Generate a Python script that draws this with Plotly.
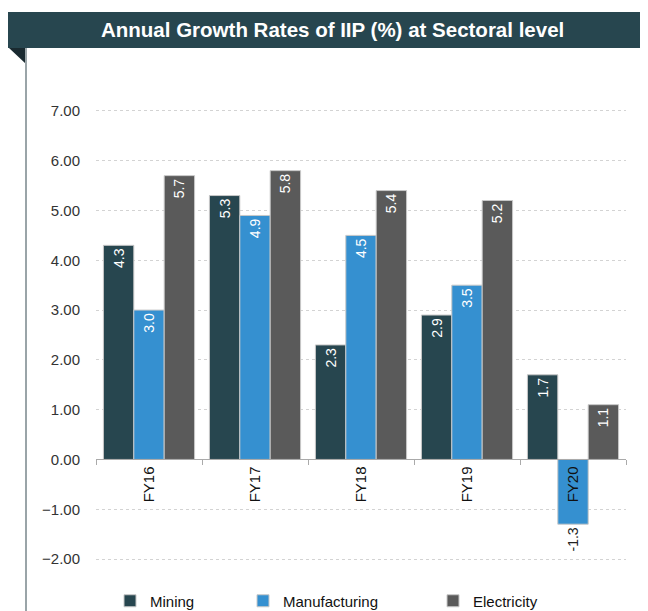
import plotly.graph_objects as go

categories = ["FY16", "FY17", "FY18", "FY19", "FY20"]
mining = [4.3, 5.3, 2.3, 2.9, 1.7]
manufacturing = [3.0, 4.9, 4.5, 3.5, -1.3]
electricity = [5.7, 5.8, 5.4, 5.2, 1.1]
y_ticks = [-2, -1, 0, 1, 2, 3, 4, 5, 6, 7]
title_text = "Annual Growth Rates of IIP (%) at Sectoral level"

OFF = 8  # page body margin
W, H = 648 - OFF, 611 - OFF
# plot area in screen pixels: x 96..626, y 86..569
L, R, T, B = 96 - OFF, W - (626 - OFF), 86 - OFF, H - (569 - OFF)
YMIN, YMAX = -2.2, 7.5

def px_x(p):
    return (p - OFF - L) / (W - L - R)

def px_y(p):
    return (H - B - (p - OFF)) / (H - T - B)

FONT = "Liberation Sans, Arial, sans-serif"
colors = {"Mining": "#27464f", "Manufacturing": "#3590d0", "Electricity": "#5a5a5a"}

fig = go.Figure()
series = [("Mining", mining, "legend"), ("Manufacturing", manufacturing, "legend2"),
          ("Electricity", electricity, "legend3")]
for name, vals, lg in series:
    fig.add_trace(go.Bar(
        name=name, x=categories, y=vals,
        marker=dict(color=colors[name], line=dict(color="#c8c8c8", width=1)),
        texttemplate="%{y:.1f}",
        textposition=["inside" if v >= 0 else "outside" for v in vals],
        insidetextanchor="end",
        textangle=-90,
        insidetextfont=dict(color="white", size=14, family=FONT),
        outsidetextfont=dict(color="#222222", size=14, family=FONT),
        constraintext="none",
        cliponaxis=False,
        legend=lg,
    ))

zero_pos = (0 - YMIN) / (YMAX - YMIN)

fig.update_layout(
    width=W, height=H,
    margin=dict(l=L, r=R, t=T, b=B, autoexpand=False),
    paper_bgcolor="white", plot_bgcolor="white",
    barmode="group", bargap=0.14, bargroupgap=0,
    font=dict(family=FONT, size=14, color="#222222"),
    showlegend=True,
    xaxis=dict(
        anchor="free", position=zero_pos,
        tickson="boundaries", ticks="outside", ticklen=5, tickcolor="#aaaaaa",
        showline=True, linecolor="#aaaaaa", linewidth=1,
        showgrid=False, tickangle=-90,
        tickfont=dict(size=15, color="#111111", family=FONT),
        layer="above traces",
    ),
    yaxis=dict(
        range=[YMIN, YMAX], tickvals=y_ticks, tickformat=".2f",
        showgrid=True, gridcolor="#d3d3d3", griddash="dot", gridwidth=1,
        zeroline=False, showline=False,
        ticks="", ticklabelstandoff=15,
        tickfont=dict(size=15, color="#333333", family=FONT),
    ),
)

leg_common = dict(orientation="h", yanchor="middle", y=px_y(601), xanchor="left",
                  font=dict(size=15, color="#111111", family=FONT),
                  bgcolor="rgba(0,0,0,0)", itemwidth=30)
fig.update_layout(
    legend=dict(x=px_x(110), **leg_common),
    legend2=dict(x=px_x(243), **leg_common),
    legend3=dict(x=px_x(433), **leg_common),
)

# title banner
fig.add_shape(type="rect", xref="paper", yref="paper",
              x0=px_x(8), x1=px_x(660), y0=px_y(48), y1=px_y(12),
              fillcolor="#27464f", line=dict(width=0), layer="below")
# little folded corner triangle
fig.add_shape(type="path", xref="paper", yref="paper",
              path=f"M {px_x(9)},{px_y(48)} L {px_x(26)},{px_y(48)} L {px_x(26)},{px_y(64)} Z",
              fillcolor="#1a2a30", line=dict(width=0))
# left vertical border line
fig.add_shape(type="line", xref="paper", yref="paper",
              x0=px_x(26), x1=px_x(26), y0=px_y(48), y1=px_y(620),
              line=dict(color="#9aa4a8", width=2))
fig.add_annotation(text=f"<b>{title_text}</b>", xref="paper", yref="paper",
                   x=px_x(332), y=px_y(29), showarrow=False,
                   font=dict(size=20.5, color="white", family=FONT),
                   xanchor="center", yanchor="middle")

fig.write_html("out.html")
